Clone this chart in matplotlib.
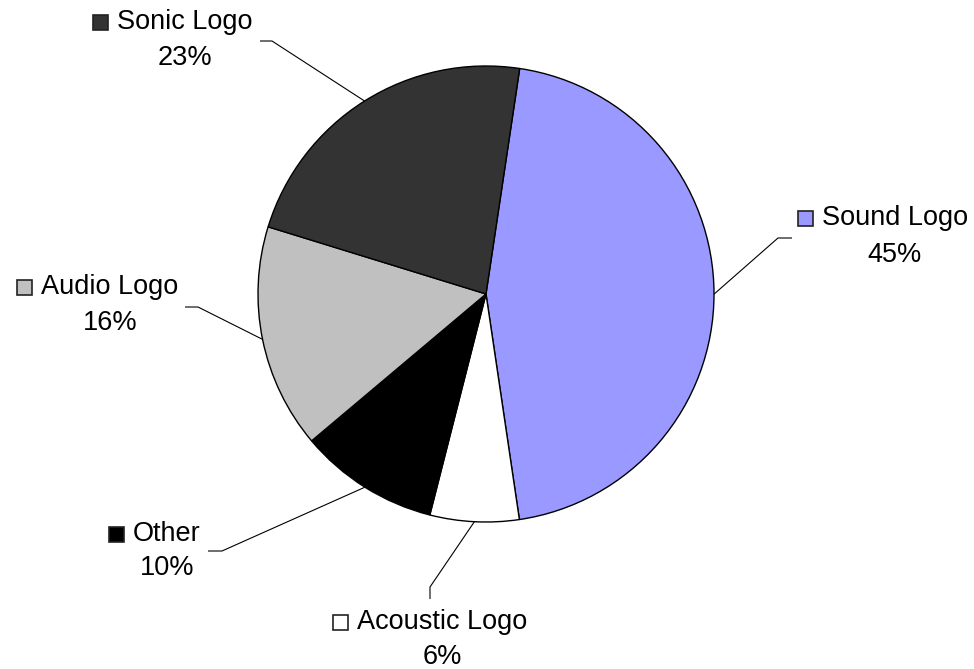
import matplotlib
matplotlib.use("Agg")
import matplotlib.pyplot as plt
from matplotlib.patches import Rectangle
import numpy as np

categories = ["Sound Logo", "Acoustic Logo", "Other", "Audio Logo", "Sonic Logo"]
shares = [45.3, 6.3, 9.9, 15.9, 22.6]
colors = ["#9999FF", "#FFFFFF", "#000000", "#C0C0C0", "#333333"]

W, H = 974, 669
plt.rcParams['font.family'] = ['Liberation Sans', 'DejaVu Sans']

fig = plt.figure(figsize=(W / 100, H / 100), dpi=100)
ax = fig.add_axes([0, 0, 1, 1])

cx, cy, R = 486, H - 294, 228
wedges, _ = ax.pie(shares, colors=colors, startangle=81.5, counterclock=False,
                   center=(cx, cy), radius=R,
                   wedgeprops=dict(edgecolor="black", linewidth=1.0))
ax.set_xlim(0, W)
ax.set_ylim(0, H)
ax.set_aspect('equal')
ax.axis('off')

# layout (pixel coords, y from top): label centre x, name baseline, pct baseline, knee, end
layout = {
    "Sound Logo":    dict(x=895, yn=225, yp=262, knee=(778, 238), end=(792, 238)),
    "Acoustic Logo": dict(x=442, yn=629, yp=664, knee=(430, 587), end=(430, 599)),
    "Other":         dict(x=167, yn=541, yp=575, knee=(222, 551), end=(208, 551)),
    "Audio Logo":    dict(x=110, yn=294, yp=330, knee=(198, 307), end=(185, 307)),
    "Sonic Logo":    dict(x=185, yn=29, yp=65, knee=(272, 41), end=(260, 41)),
}

fs = 19.5
name_texts = []
for w, cat, val, col in zip(wedges, categories, shares, colors):
    L = layout[cat]
    mid = np.deg2rad((w.theta1 + w.theta2) / 2)
    ex, ey = cx + R * np.cos(mid), cy + R * np.sin(mid)
    kx, ky = L["knee"]
    qx, qy = L["end"]
    ax.plot([ex, kx, qx], [ey, H - ky, H - qy], color="black", lw=0.8,
            solid_capstyle="butt")
    t = ax.text(L["x"], H - L["yn"], cat, ha="center", va="baseline", fontsize=fs)
    ax.text(L["x"], H - L["yp"], f"{val:.0f}%", ha="center", va="baseline", fontsize=fs)
    name_texts.append((t, col, L))

fig.canvas.draw()
r = fig.canvas.get_renderer()
inv = ax.transData.inverted()
sq = 15
for t, col, L in name_texts:
    bb = t.get_window_extent(renderer=r).transformed(inv)
    x0 = bb.x0 - 9 - sq
    yb = H - L["yn"]
    ax.add_patch(Rectangle((x0, yb - 1), sq, sq, facecolor=col, edgecolor="#222222",
                           linewidth=1.2, zorder=5))

fig.savefig("out.png", dpi=100)
